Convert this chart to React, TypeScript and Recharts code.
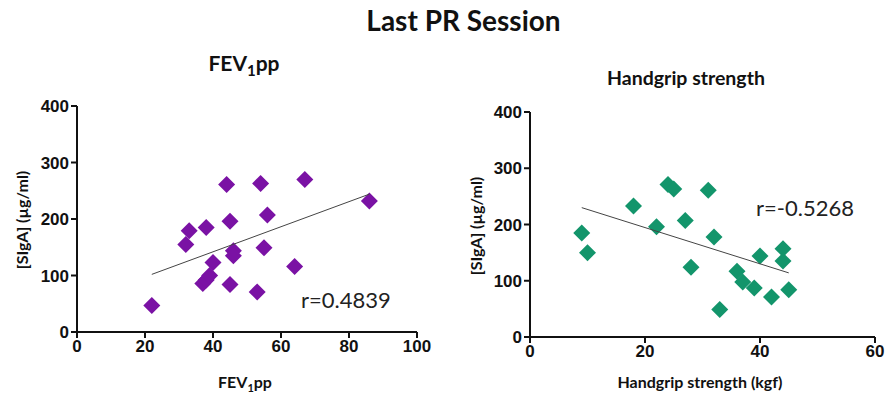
import React from 'react';
import { ScatterChart, Scatter, XAxis, YAxis } from 'recharts';

// FEV1pp vs SIgA
const fevX = [22, 32, 33, 38, 37, 38, 39, 40, 44, 45, 45, 46, 46, 54, 55, 53, 56, 64, 67, 86];
const fevY = [47, 155, 179, 185, 86, 92, 100, 123, 261, 196, 84, 144, 135, 263, 149, 71, 207, 116, 270, 232];
const fevTrendX = [22, 86];
const fevTrendY = [102, 244];

// Handgrip strength vs SIgA
const gripX = [9, 10, 18, 22, 24, 25, 27, 28, 31, 32, 33, 36, 37, 39, 40, 42, 44, 44, 45];
const gripY = [185, 150, 233, 196, 271, 263, 207, 124, 261, 178, 49, 117, 98, 87, 144, 71, 157, 135, 84];
const gripTrendX = [9, 45];
const gripTrendY = [230, 114];

const fevTicks = [0, 20, 40, 60, 80, 100];
const gripTicks = [0, 20, 40, 60];
const yTicks = [0, 100, 200, 300, 400];

const zip = (xs: number[], ys: number[]) => xs.map((x, i) => ({ x, y: ys[i] }));

const PURPLE = '#7a12a4';
const GREEN = '#13956b';

const titleFont = 'Lato, "Noto Sans", sans-serif';
const tickFont = '"Liberation Sans", Arial, sans-serif';

const Diamond = (props: any) => {
    const { cx, cy, fill } = props;
    const r = 8.5;
    return <path d={`M${cx},${cy - r}L${cx + r},${cy}L${cx},${cy + r}L${cx - r},${cy}Z`} fill={fill} />;
};

const NoDot = () => <g />;

const tickStyle = { fill: '#111', fontSize: 17, fontWeight: 700, fontFamily: tickFont };
const axisLine = { stroke: '#111', strokeWidth: 2 };

type PanelProps = {
    points: { x: number; y: number }[];
    trend: { x: number; y: number }[];
    xTicks: number[];
    xMax: number;
    color: string;
    width: number;
    yAxisWidth: number;
    margin: { top: number; right: number; bottom: number; left: number };
};

const Panel = ({ points, trend, xTicks, xMax, color, width, yAxisWidth, margin }: PanelProps) => (
    <ScatterChart width={width} height={394} margin={margin}>
        <XAxis
            type="number"
            dataKey="x"
            domain={[0, xMax]}
            ticks={xTicks}
            axisLine={axisLine}
            tickLine={axisLine}
            tickSize={6}
            tick={tickStyle}
            height={30}
            interval={0}
        />
        <YAxis
            type="number"
            dataKey="y"
            domain={[0, 400]}
            ticks={yTicks}
            axisLine={axisLine}
            tickLine={axisLine}
            tickSize={6}
            tick={tickStyle}
            width={yAxisWidth}
            interval={0}
        />
        <Scatter data={points} fill={color} shape={<Diamond />} isAnimationActive={false} />
        <Scatter
            data={trend}
            line={{ stroke: '#444', strokeWidth: 1 }}
            shape={<NoDot />}
            isAnimationActive={false}
        />
    </ScatterChart>
);

const abs = (style: React.CSSProperties): React.CSSProperties => ({ position: 'absolute', ...style });

export default function App() {
    return (
        <div style={abs({ left: 0, top: 0, width: 887, height: 394, background: '#fff', overflow: 'hidden', fontFamily: titleFont })}>
            <div style={abs({ left: 0, top: 3, width: 927, textAlign: 'center', fontSize: 28, fontWeight: 700, color: '#111' })}>
                Last PR Session
            </div>
            <div style={abs({ left: 144, top: 50, width: 200, textAlign: 'center', fontSize: 21, fontWeight: 700, color: '#111' })}>
                FEV<sub style={{ fontSize: 15 }}>1</sub>pp
            </div>
            <div style={abs({ left: 586, top: 66, width: 200, textAlign: 'center', fontSize: 19.5, fontWeight: 700, color: '#111' })}>
                Handgrip strength
            </div>

            <div style={abs({ left: 0, top: 0 })}>
                <Panel
                    points={zip(fevX, fevY)}
                    trend={zip(fevTrendX, fevTrendY)}
                    xTicks={fevTicks}
                    xMax={100}
                    color={PURPLE}
                    width={440}
                    yAxisWidth={77}
                    margin={{ top: 106, right: 23, bottom: 32, left: 0 }}
                />
            </div>
            <div style={abs({ left: 460, top: 0 })}>
                <Panel
                    points={zip(gripX, gripY)}
                    trend={zip(gripTrendX, gripTrendY)}
                    xTicks={gripTicks}
                    xMax={60}
                    color={GREEN}
                    width={427}
                    yAxisWidth={70}
                    margin={{ top: 112, right: 12, bottom: 27, left: 0 }}
                />
            </div>

            <div style={abs({ left: 301, top: 286, fontSize: 22, color: '#222' })}>r=0.4839</div>
            <div style={abs({ left: 756, top: 194, fontSize: 22, color: '#222' })}>r=-0.5268</div>

            <div style={abs({ left: 145, top: 372, width: 200, textAlign: 'center', fontSize: 16, fontWeight: 700, color: '#111' })}>
                FEV<sub style={{ fontSize: 11 }}>1</sub>pp
            </div>
            <div style={abs({ left: 600, top: 372, width: 200, textAlign: 'center', fontSize: 16, fontWeight: 700, color: '#111' })}>
                Handgrip strength (kgf)
            </div>

            <div style={abs({ left: 22, top: 220, width: 160, marginLeft: -80, marginTop: -10, height: 20, lineHeight: '20px', textAlign: 'center', transform: 'rotate(-90deg)', fontSize: 16, fontWeight: 700, color: '#111' })}>
                [SIgA] (µg/ml)
            </div>
            <div style={abs({ left: 476, top: 226, width: 160, marginLeft: -80, marginTop: -10, height: 20, lineHeight: '20px', textAlign: 'center', transform: 'rotate(-90deg)', fontSize: 16, fontWeight: 700, color: '#111' })}>
                [SIgA] (µg/ml)
            </div>
        </div>
    );
}
